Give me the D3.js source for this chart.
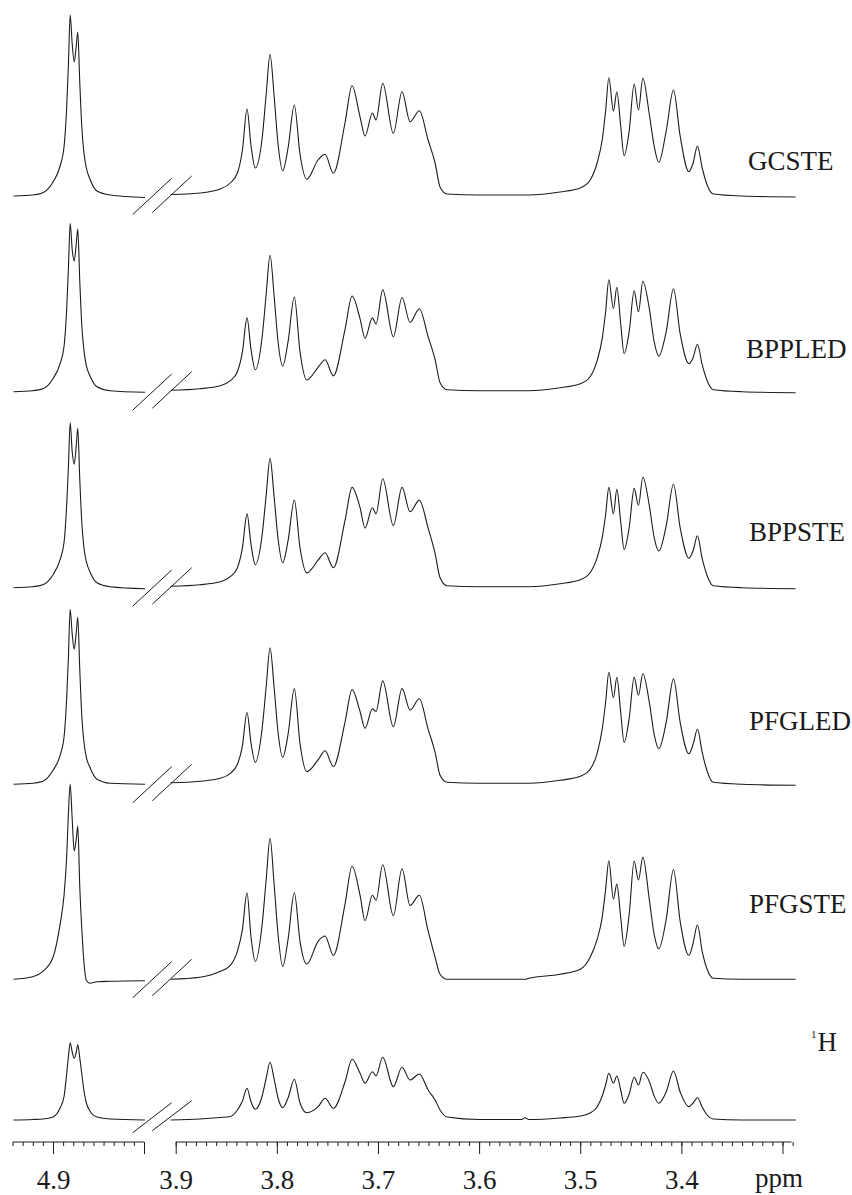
<!DOCTYPE html>
<html>
<head>
<meta charset="utf-8">
<script src="https://cdn.jsdelivr.net/npm/d3@7"></script>
<style>
  body { margin: 0; background: #fff; }
  svg text { font-family: "Liberation Serif", "Times New Roman", Times, "DejaVu Serif", serif; fill: #1a1a1a; }
</style>
</head>
<body>
<svg id="chart" width="852" height="1195"></svg>
<script>
// Chemical shift grid (ppm), high-field segment and low-field segment of the broken axis
const ppmLeft = [4.939, 4.920, 4.910, 4.900, 4.893, 4.889, 4.8865, 4.8848, 4.883, 4.881, 4.879,
  4.877, 4.8755, 4.8735, 4.8715, 4.8695, 4.867, 4.8635, 4.8565, 4.8435, 4.809];
const ppmRight = [3.905, 3.876, 3.856, 3.846, 3.839, 3.834, 3.8295, 3.8255, 3.8213, 3.8145,
  3.8105, 3.8067, 3.8027, 3.7988, 3.7942, 3.7889, 3.7827, 3.7771, 3.7704, 3.7592,
  3.7523, 3.7441, 3.7326, 3.7256, 3.7177, 3.7128, 3.7055, 3.7019, 3.6953, 3.6848,
  3.6762, 3.6683, 3.6591, 3.6504, 3.6435, 3.6386, 3.6317, 3.600, 3.558, 3.5545,
  3.551, 3.520, 3.500, 3.4902, 3.4833, 3.4783, 3.4749, 3.4717, 3.4672, 3.4638,
  3.4600, 3.4566, 3.4516, 3.4467, 3.4424, 3.4381, 3.4316, 3.4269, 3.4223, 3.4150,
  3.4078, 3.4012, 3.3926, 3.3884, 3.3841, 3.3794, 3.3745, 3.3685, 3.340, 3.287];

// Intensities (a.u.) at the grid points, one pair of arrays per experiment
const gcsteLeft = [0, 1, 3.3, 14, 30, 50, 88, 130, 181, 152, 134, 150, 164, 113, 69, 44, 28, 17, 5, 1, -1.5];
const gcsteRight = [1.5, 3, 7, 13, 23, 46, 87, 50, 28, 58,
  102, 141.7, 100, 52, 25.3, 48, 91, 42, 16.7, 36,
  41.7, 22.7, 73, 110.3, 79, 60, 83, 76, 112.7, 62.7,
  104.3, 74.3, 85.3, 56, 33, 9, 2, 1, 1, 1,
  1, 4, 8, 16, 33, 56, 85, 118.3, 85, 104.3,
  70, 40.3, 65, 112, 86, 117.7, 81, 50, 33.7, 65,
  106, 60, 24.3, 33, 50, 28, 11, 2, 0, -1];

const bppledLeft = [0, 1, 3, 13, 28, 46, 82, 122, 168.4, 142, 130.7, 148, 162.7, 110, 66, 42, 26, 16, 5, 1, -0.6];
const bppledRight = [1.5, 3, 6, 11, 20, 40, 73.8, 42, 21.9, 55,
  98, 136.5, 96, 50, 25.5, 50, 94.7, 40, 11.7, 24.4,
  32, 15.8, 62, 95.7, 72.8, 53.5, 73.8, 67.7, 101.8, 55,
  94.2, 69.2, 83, 55, 32, 9, 2, 1, 1, 1,
  1, 4, 8, 15, 31, 53, 80, 112, 83, 104.4,
  68, 38.2, 60, 100.8, 80, 110.5, 82.5, 50, 35.6, 60,
  102.9, 58, 28, 34, 47.4, 27, 11, 2, 0, -1];

const bppsteLeft = [0, 1, 3, 13, 28, 46, 82, 120, 165, 136, 123.4, 142, 159.4, 108, 65, 41, 26, 16, 5, 1, -1];
const bppsteRight = [1.5, 3, 6, 11, 20, 40, 73.8, 43, 22.9, 53,
  93, 129.3, 91, 49, 25, 47, 87.6, 40, 14.8, 27.5,
  35, 19.9, 67, 100.3, 80, 59.6, 80, 73.8, 109, 62.1,
  100.3, 75.9, 87.6, 59.6, 34, 10, 2, 1, 1, 1,
  1, 4, 8, 15, 30, 50, 73, 100.3, 73.8, 98.3,
  66, 38.2, 60, 99.3, 82.5, 110.5, 81.5, 50, 36.7, 62,
  103.4, 60, 29.5, 37, 51.9, 29, 12, 2, 0, -1];

const pfgledLeft = [0, 1, 3, 14, 29, 48, 86, 126, 175, 150, 135, 152, 167, 114, 68, 43, 27, 17, 5, 1, 0];
const pfgledRight = [1.5, 3, 6, 11, 20, 39, 71.8, 41, 21.9, 56,
  98, 136.5, 97, 52, 27, 50, 95.7, 41, 12.7, 24.4,
  33.6, 17.8, 62, 94.7, 72.8, 56, 75.4, 72.8, 103.4, 57.5,
  95.7, 74.3, 85.5, 55, 32, 9, 2, 1, 1, 1,
  1, 4, 8, 15, 31, 55, 82, 112, 86.6, 106.9,
  72, 41.8, 66, 106.9, 89.1, 110.5, 81.5, 50, 35.6, 62,
  105.4, 62, 30.5, 40, 55, 32, 13, 2, 0, -1];

const pfgsteLeft = [0, 2.5, 8, 22, 55, 85, 122, 165, 195, 160, 128.3, 140, 153.3, 92, 50, 18, -1, -4, -2.5, -2, -1.4];
const pfgsteRight = [0, 2, 8, 14, 28, 50, 86.6, 42, 17.8, 55,
  100, 141, 95, 45, 12.7, 40, 86.6, 38, 15.3, 38,
  43.3, 23.9, 75, 113, 84, 58.6, 84, 79, 114.6, 63.6,
  110.5, 73.8, 84, 48.4, 22, 5, 0, 0, 0, 0,
  1, 5, 10, 22, 40, 62, 90, 118.6, 80, 95.2,
  62, 33, 65, 118, 99.3, 122.2, 79, 45, 30.5, 60,
  109.5, 58, 24, 36, 54.5, 28, 10, 1, 0, 0];

const protonLeft = [0, 0.5, 1, 3, 12, 24, 46, 63, 77.3, 68, 61.7, 68, 75.3, 62, 46, 30, 17, 9, 3, 1, 0];
const protonRight = [0, 1, 2.5, 3.5, 10, 19, 31.7, 18, 10.7, 24,
  42, 57.7, 41, 22, 12.3, 22, 40.7, 17, 7.3, 13.3,
  21.7, 11.7, 38, 60.7, 46.7, 36.7, 48.3, 44, 62.7, 33.3,
  52.7, 40, 46, 30, 20, 10, 3, 0.5, 0.5, 2.3,
  0.5, 2, 4, 7, 13, 24, 35, 46.7, 36.7, 44,
  30, 16.7, 26, 42.7, 35, 47.7, 38.3, 24, 16.7, 28,
  49, 28, 13.3, 17, 22.3, 13, 5, 1, 0, 0];

// Axis tick labels
const majorLeft = [4.9];
const majorRight = [3.9, 3.8, 3.7, 3.6, 3.5, 3.4, 3.3];
const labelledRight = [3.9, 3.8, 3.7, 3.6, 3.5, 3.4];

const spectra = [
  { label: "GCSTE", left: gcsteLeft, right: gcsteRight },
  { label: "BPPLED", left: bppledLeft, right: bppledRight },
  { label: "BPPSTE", left: bppsteLeft, right: bppsteRight },
  { label: "PFGLED", left: pfgledLeft, right: pfgledRight },
  { label: "PFGSTE", left: pfgsteLeft, right: pfgsteRight },
  { label: "H", sup: "1", left: protonLeft, right: protonRight }
];

// Layout
const serif = '"Liberation Serif", "Times New Roman", Times, "DejaVu Serif", serif';
const baselines = [196, 391.7, 587.7, 784.3, 979.3, 1120];
const labelPos = [[748, 170], [746, 358], [749, 541], [749, 729.5], [749, 913], [811, 1051]];
// break-mark segments relative to each baseline: [x1, dy1, x2, dy2]
const tallBreak = [[132.7, 18.5, 171.7, -17.7], [152.3, 16.5, 191.7, -20]];
const shortBreak = [[132.7, 12.7, 171.7, -17.3], [152.3, 10.7, 191.7, -19.3]];
const axisY = 1142;

const svg = d3.select("#chart").attr("font-family", serif);

const xLeft = d3.scaleLinear().domain([4.9, 4.81]).range([53, 144]);
const xRight = d3.scaleLinear().domain([3.9, 3.3]).range([175.7, 782.5]);
const yInt = d3.scaleLinear().domain([0, 100]).range([0, 100]);

const ink = "#1c1c1c";

spectra.forEach((s, i) => {
  const base = baselines[i];
  const g = svg.append("g");
  const segs = [
    { x: xLeft, ppm: ppmLeft, val: s.left },
    { x: xRight, ppm: ppmRight, val: s.right }
  ];
  segs.forEach(seg => {
    const pts = seg.ppm.map((p, k) => [p, seg.val[k]]);
    const line = d3.line()
      .x(d => seg.x(d[0]))
      .y(d => base - yInt(d[1]))
      .curve(d3.curveMonotoneX);
    g.append("path")
      .attr("d", line(pts))
      .attr("fill", "none")
      .attr("stroke", ink)
      .attr("stroke-width", 1.1)
      .attr("stroke-linejoin", "round");
  });
  // break marks
  const brk = i === spectra.length - 1 ? shortBreak : tallBreak;
  brk.forEach(b => {
    g.append("line")
      .attr("x1", b[0]).attr("y1", base + b[1])
      .attr("x2", b[2]).attr("y2", base + b[3])
      .attr("stroke", ink).attr("stroke-width", 1);
  });
  // label
  const t = g.append("text")
    .attr("x", labelPos[i][0]).attr("y", labelPos[i][1])
    .attr("font-family", serif)
    .attr("fill", ink)
    .attr("font-size", 27);
  if (s.sup) {
    t.append("tspan").attr("font-size", 11).attr("dy", -13).text(s.sup);
    t.append("tspan").attr("dy", 13).attr("dx", 1).text(s.label);
  } else {
    t.text(s.label);
  }
});

// Axes: minor ticks every 0.01 ppm, major every 0.1 ppm
function drawAxis(scale, minor, major, labelled, extent) {
  const g = svg.append("g").attr("transform", `translate(0,${axisY})`);
  g.append("line")
    .attr("x1", extent[0]).attr("x2", extent[1])
    .attr("y1", 0).attr("y2", 0)
    .attr("stroke", ink).attr("stroke-width", 1);
  const minorAxis = d3.axisBottom(scale).tickValues(minor).tickSize(4).tickFormat("");
  const majorAxis = d3.axisBottom(scale).tickValues(major).tickSize(12).tickPadding(16)
    .tickFormat(d => labelled.some(v => Math.abs(v - d) < 1e-6) ? d3.format(".1f")(d) : "");
  [minorAxis, majorAxis].forEach(ax => {
    const a = g.append("g").call(ax);
    a.attr("font-family", serif);
    a.select(".domain").remove();
    a.selectAll(".tick line").attr("stroke", ink).attr("stroke-width", 1);
    a.selectAll(".tick text")
      .attr("font-size", 27)
      .attr("font-family", serif)
      .attr("fill", ink);
  });
}

const minorLeft = d3.range(0, 14).map(k => +(4.94 - k * 0.01).toFixed(2));
const minorRight = d3.range(0, 62).map(k => +(3.9 - k * 0.01).toFixed(2));
drawAxis(xLeft, minorLeft, majorLeft.concat([4.81]), majorLeft, [xLeft(4.94), xLeft(4.81)]);
drawAxis(xRight, minorRight, majorRight, labelledRight, [xRight(3.9), xRight(3.291)]);

svg.append("text")
  .attr("x", 779).attr("y", 1187)
  .attr("text-anchor", "middle")
  .attr("font-family", serif)
  .attr("fill", ink)
  .attr("font-size", 27)
  .text("ppm");
</script>
</body>
</html>
